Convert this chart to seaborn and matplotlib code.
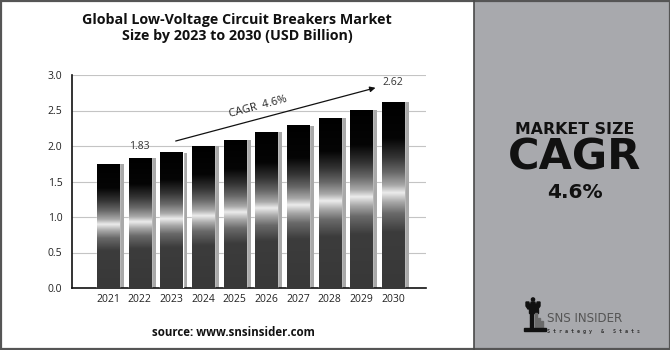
import numpy as np
import pandas as pd
import matplotlib
matplotlib.use("Agg")
import matplotlib.pyplot as plt
import seaborn as sns
from matplotlib.colors import LinearSegmentedColormap
from matplotlib.patches import Rectangle, Circle, Polygon

years = ["2021", "2022", "2023", "2024", "2025", "2026", "2027", "2028", "2029", "2030"]
market_size = [1.75, 1.83, 1.91, 2.00, 2.09, 2.20, 2.29, 2.40, 2.51, 2.62]
y_ticks = [0.0, 0.5, 1.0, 1.5, 2.0, 2.5, 3.0]
cagr_text = "CAGR  4.6%"
labelled_years = ["2022", "2030"]

title = "Global Low-Voltage Circuit Breakers Market\nSize by 2023 to 2030 (USD Billion)"
source = "source: www.snsinsider.com"

sns.set_theme(style="white")
plt.rcParams["font.family"] = ["Open Sans", "DejaVu Sans"]

W, H = 670, 350
fig = plt.figure(figsize=(W / 100, H / 100), dpi=100)
fig.patch.set_facecolor("white")

# decoration layer in pixel coordinates (y grows downward)
deco = fig.add_axes([0, 0, 1, 1], zorder=0)
deco.set_xlim(0, W)
deco.set_ylim(H, 0)
deco.axis("off")

# right-hand panel
deco.add_patch(Rectangle((474, 0), W - 474, H, facecolor="#a8a9ad", edgecolor="none"))
deco.plot([474, 474], [0, H], color="#4a4a4a", lw=1.2)
deco.add_patch(Rectangle((0.5, 0.5), W - 1, H - 1.5, fill=False, edgecolor="#555555", lw=1.6))

deco.text(575, 129, "MARKET SIZE", ha="center", va="center", fontsize=11.3,
          fontweight="heavy", family="DejaVu Sans", color="#111111")
deco.text(575, 157, "CAGR", ha="center", va="center", fontsize=31,
          fontweight="heavy", family="DejaVu Sans", color="#111111")
deco.text(575, 193, "4.6%", ha="center", va="center", fontsize=14.5,
          fontweight="heavy", family="DejaVu Sans", color="#111111")

# logo: rook icon and wordmark
deco.add_patch(Circle((533, 299.5), 1.6, color="#111111"))
deco.add_patch(Polygon([(526, 302), (529, 302), (529, 304), (531, 304), (531, 302),
                        (535, 302), (535, 304), (537, 304), (537, 302), (540, 302),
                        (540, 306), (538, 309), (528, 309), (526, 306)],
                       closed=True, color="#111111"))
deco.add_patch(Rectangle((528.5, 309), 9, 4, color="#111111"))
deco.add_patch(Rectangle((529.5, 313), 3.5, 15, color="#111111"))
deco.add_patch(Rectangle((534.5, 313), 2.5, 15, color="#6a6a6a"))
deco.add_patch(Rectangle((538, 318), 1.5, 10, color="#6a6a6a"))
deco.add_patch(Rectangle((541, 321), 1.5, 7, color="#6a6a6a"))
deco.add_patch(Rectangle((524, 328), 22, 3, color="#111111"))
deco.text(547, 318, "SNS INSIDER", ha="left", va="center", fontsize=8.6,
          family="DejaVu Sans Condensed", color="#555555")
deco.text(547, 331.5, "S t r a t e g y   &   S t a t s", ha="left", va="center",
          fontsize=3.6, family="DejaVu Sans Mono", fontweight="bold", color="#333333")

# chart texts
deco.text(237, 28, title, ha="center", va="center", fontsize=10.3, fontweight="bold",
          color="#111111", linespacing=1.12)
deco.text(233, 332, source, ha="center", va="center", fontsize=8.3, fontweight="bold",
          color="#111111")

# main axes
ax = fig.add_axes([72 / W, 1 - 288 / H, (426 - 72) / W, (288 - 75) / H], zorder=2)
df = pd.DataFrame({"year": years, "size": market_size})
sns.barplot(data=df, x="year", y="size", ax=ax, width=0.7, color="black",
            saturation=1, zorder=3)

# metallic vertical gradient (fraction of bar height from the bottom)
metal = LinearSegmentedColormap.from_list("metal", [
    (0.00, "#383838"), (0.30, "#3c3c3c"), (0.40, "#6a6a6a"), (0.46, "#a8a8a8"),
    (0.51, "#ececec"), (0.55, "#a8a8a8"), (0.62, "#686868"), (0.70, "#343434"),
    (0.80, "#050505"), (1.00, "#000000")])
grad = np.linspace(0, 1, 256).reshape(-1, 1)

for p in list(ax.patches):
    x0, w, h = p.get_x(), p.get_width(), p.get_height()
    # grey side face
    ax.add_patch(Rectangle((x0 + w * 0.3, 0), w * 0.7 + 0.15, h - 0.005,
                           facecolor="#a9a9a9", edgecolor="none", zorder=2))
    img = ax.imshow(grad, cmap=metal, origin="lower", aspect="auto",
                    extent=(x0, x0 + w, 0, h), zorder=4, interpolation="bilinear")
    img.set_clip_path(p)

ax.set_xlim(-1.14, 10.04)
ax.set_ylim(0, 3.0)
ax.set_yticks(y_ticks)
ax.set_yticklabels([f"{v:.1f}" for v in y_ticks])
ax.set_xlabel("")
ax.set_ylabel("")
ax.yaxis.grid(True, color="#c4c4c4", lw=0.8, zorder=0)
ax.set_axisbelow(True)
ax.tick_params(axis="both", length=0, labelsize=7.5, labelcolor="#222222")
ax.tick_params(axis="y", pad=7)
ax.tick_params(axis="x", pad=4)
for side in ["top", "right"]:
    ax.spines[side].set_visible(False)
for side in ["left", "bottom"]:
    ax.spines[side].set_visible(True)
    ax.spines[side].set_color("#111111")
    ax.spines[side].set_linewidth(1.2)
ax.set_facecolor("none")

# value labels
for yr in labelled_years:
    i = years.index(yr)
    v = market_size[i]
    ax.text(i, v + 0.09 if yr != "2030" else v + 0.2, f"{v:.2f}", ha="center",
            va="bottom", fontsize=7.5, color="#333333")

# growth arrow
ax.annotate("", xy=(8.53, 2.83), xytext=(2.05, 2.06),
            arrowprops=dict(arrowstyle="-|>", lw=0.9, color="#111111", mutation_scale=8),
            zorder=5)
ax.text(4.75, 2.55, cagr_text, rotation=15, rotation_mode="anchor", ha="center",
        va="center", fontsize=8, color="#222222")

fig.savefig("out.png", dpi=100)
